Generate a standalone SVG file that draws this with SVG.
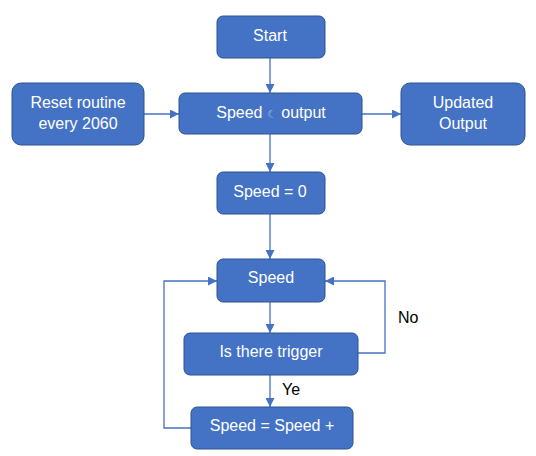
<svg xmlns="http://www.w3.org/2000/svg" width="536" height="456" viewBox="0 0 536 456">
<style>
.n rect{fill:#4472C4;stroke:#2F528F;stroke-width:1}
.n text{fill:#fff;font-family:"Liberation Sans",Arial,sans-serif;font-size:16px;text-anchor:middle}
.c path{fill:none;stroke:#4472C4;stroke-width:1.3}
.l{fill:#000;font-family:"Liberation Sans",Arial,sans-serif;font-size:16px}
</style>
<defs>
<marker id="a" viewBox="0 0 10 10" refX="10" refY="5" markerWidth="9" markerHeight="9" markerUnits="userSpaceOnUse" orient="auto">
<path d="M0,0 L10,5 L0,10 z" fill="#4472C4"/>
</marker>
</defs>
<rect width="536" height="456" fill="#fff"/>
<g class="c">
<path d="M270,58 V93" marker-end="url(#a)"/>
<path d="M144,114 H179" marker-end="url(#a)"/>
<path d="M362,114 H401" marker-end="url(#a)"/>
<path d="M270,134 V172" marker-end="url(#a)"/>
<path d="M270,214 V259" marker-end="url(#a)"/>
<path d="M270,302 V333" marker-end="url(#a)"/>
<path d="M358,353 H385 V281 H325" marker-end="url(#a)"/>
<path d="M270,375 V407" marker-end="url(#a)"/>
<path d="M191,428 H164 V281 H217" marker-end="url(#a)"/>
</g>
<text class="l" x="398" y="323">No</text>
<text class="l" x="282" y="395">Ye</text>
<g id="start" class="n"><rect x="217" y="16" width="108" height="42" rx="6"/><text x="270" y="41">Start</text></g>
<g id="reset" class="n"><rect x="12" y="83" width="132" height="62" rx="9"/><text x="78" y="108">Reset routine</text><text x="78" y="129">every 2060</text></g>
<g id="speedout" class="n"><rect x="179" y="93" width="183" height="41" rx="6"/><text x="271" y="118">Speed <tspan fill="#A9BDE3" font-family="DejaVu Sans" font-size="11">☾</tspan> output</text></g>
<g id="updated" class="n"><rect x="401" y="83" width="124" height="62" rx="9"/><text x="463" y="108">Updated</text><text x="463" y="129">Output</text></g>
<g id="speed0" class="n"><rect x="217" y="172" width="108" height="42" rx="6"/><text x="270" y="197">Speed = 0</text></g>
<g id="speed" class="n"><rect x="217" y="259" width="108" height="43" rx="6"/><text x="271" y="283">Speed</text></g>
<g id="trigger" class="n"><rect x="184" y="333" width="174" height="42" rx="6"/><text x="271" y="357">Is there trigger</text></g>
<g id="inc" class="n"><rect x="191" y="407" width="162" height="42" rx="6"/><text x="272" y="431">Speed = Speed +</text></g>
</svg>
